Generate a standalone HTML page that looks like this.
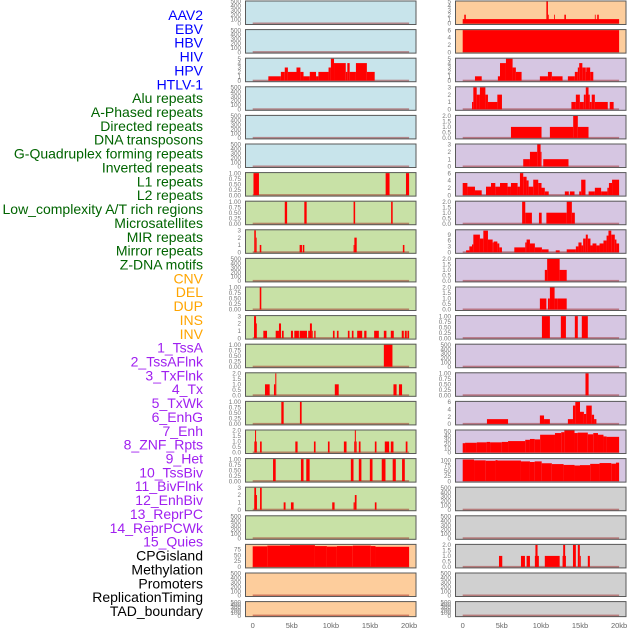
<!DOCTYPE html>
<html><head><meta charset="utf-8"><style>
body{margin:0;background:#fff;width:630px;height:630px;overflow:hidden}
svg{display:block;font-family:"Liberation Sans",sans-serif}
</style></head><body>
<svg id="chart" width="630" height="630"></svg>
<script>
const trackLabels = ["AAV2","EBV","HBV","HIV","HPV","HTLV-1","Alu repeats","A-Phased repeats","Directed repeats","DNA transposons","G-Quadruplex forming repeats","Inverted repeats","L1 repeats","L2 repeats","Low_complexity A/T rich regions","Microsatellites","MIR repeats","Mirror repeats","Z-DNA motifs","CNV","DEL","DUP","INS","INV","1_TssA","2_TssAFlnk","3_TxFlnk","4_Tx","5_TxWk","6_EnhG","7_Enh","8_ZNF_Rpts","9_Het","10_TssBiv","11_BivFlnk","12_EnhBiv","13_ReprPC","14_ReprPCWk","15_Quies","CPGisland","Methylation","Promoters","ReplicationTiming","TAD_boundary"];
const labelGroups = [6,13,5,15,5];
const xTicks = [0,5,10,15,20];
const xTickLabels = ["0","5kb","10kb","15kb","20kb"];
const ticksEmpty = ["0","100","200","300","400","500"];
const ticks1 = ["0.00","0.25","0.50","0.75","1.00"];
const ticks2 = ["0.0","0.5","1.0","1.5","2.0"];
const ticks3 = ["0","1","2","3"];
const ticks5 = ["0","1","2","3","4","5"];
const ticks6 = ["0","2","4","6"];
const ticks9 = ["0","3","6","9"];
const ticks50 = ["0","10","20","30","40","50"];
const ticks100 = ["0","25","50","75","100"];
const ticks75 = ["0","25","50","75"];

// column 1 series [startKb, endKb, value]
const c1Hiv = [[2.0,3.6,1],[3.6,4.1,2],[4.1,4.5,3],[4.5,5.6,2],[5.6,6.1,3],[6.1,6.5,2],[6.5,7.3,1],[7.3,8.1,2],[8.1,8.4,1],[8.4,9.7,2],[9.7,10.0,3],[10.0,10.4,5],[10.4,11.9,4],[11.9,12.1,2],[12.1,12.4,4],[12.4,13.2,2],[13.2,14.6,4],[14.6,15.6,2]];
const c1L1 = [[0.1,0.8,1],[17.0,17.5,1],[19.6,20.0,1]];
const c1LowC = [[4.1,4.4,1],[6.6,6.9,1],[12.9,13.1,1],[17.7,17.9,1]];
const c1Micro = [[0.2,0.4,3],[0.4,0.5,2],[0.9,1.1,1],[6.0,6.3,1],[6.4,6.6,1],[12.9,13.0,1],[13.0,13.3,2],[19.2,19.4,1]];
const c1Mirror = [[0.9,1.1,1]];
const c1Cnv = [[0.17,0.43,3],[0.43,0.51,2],[1.36,1.83,1],[2.94,3.36,1],[3.36,3.62,2],[3.74,3.96,1],[4.89,5.15,1],[5.32,5.91,1],[6.0,6.94,1],[7.1,7.32,1],[7.32,7.57,2],[7.57,7.66,1],[7.87,8.04,1],[10.26,10.47,1],[10.77,10.98,1],[12.17,12.38,1],[12.68,12.89,1],[13.36,14.0,1],[14.26,14.55,1],[15.53,16.13,1],[16.77,17.1,1],[17.66,18.04,1],[19.06,19.32,1],[19.45,19.7,1],[19.79,20.0,1]];
const c1Del = [[16.77,17.87,1]];
const c1Dup = [[1.57,2.17,1],[2.72,2.89,1],[2.89,3.02,2],[10.5,11.0,1],[18.0,18.4,1],[18.7,19.1,1]];
const c1Ins = [[3.66,3.96,1],[6.04,6.26,1]];
const c1Inv = [[0.21,0.3,1],[0.3,0.43,2],[0.43,0.51,1],[0.94,1.15,1],[5.45,5.74,1],[7.83,8.04,1],[9.62,9.83,1],[11.66,12.0,1],[12.98,13.06,1],[13.06,13.19,2],[13.19,13.28,1],[13.57,13.79,1],[15.62,15.83,1],[16.89,17.45,1],[17.66,18.0,1],[19.57,19.79,1]];
const c1TssA = [[2.6,2.94,1],[6.17,6.5,1],[6.85,7.28,1],[12.55,12.89,1],[13.57,13.9,1],[14.98,15.32,1],[16.5,16.98,1],[17.9,18.3,1],[19.1,19.45,1]];
const c1Flnk = [[0.21,0.28,2],[0.21,0.43,3],[0.43,0.55,2],[0.94,1.15,3],[3.96,4.2,1],[4.89,5.23,1],[10.17,10.47,1],[12.9,13.06,1],[13.06,13.28,2],[15.62,15.83,1]];
const c1Cpg = [[0,1.87,87],[1.87,4.77,90],[4.77,7.96,92],[7.96,9.49,88],[9.49,10.77,86],[10.77,12.8,88],[12.8,15.1,90],[15.1,15.7,88],[15.7,20.0,85]];
// column 2 series
const c2Aav = [[0,20,1],[0.2,0.4,2],[10.7,10.9,5],[10.9,11.0,2],[11.7,11.8,2],[13.0,13.2,2],[16.9,17.0,2],[17.2,17.4,2]];
const c2Ebv = [[0,20,6]];
const c2Hbv = [[1.57,2.43,1],[4.5,4.77,1],[4.77,5.53,4],[5.53,6.38,5],[6.38,6.8,3],[6.8,7.53,2],[9.87,10.9,1],[10.9,11.4,2],[11.4,12.77,1],[13.45,14.34,1],[14.34,14.72,2],[14.72,14.9,3],[14.9,15.3,4],[15.3,15.74,3],[15.74,15.8,2],[15.8,16.3,3],[16.3,16.7,2]];
const c2Hiv = [[1.19,1.36,1],[1.36,1.79,3],[1.79,2.2,2],[2.2,2.9,3],[2.9,3.23,2],[3.23,4.43,1],[4.43,5.02,2],[13.9,14.47,1],[14.47,14.98,2],[14.98,15.49,1],[15.49,15.74,2],[15.74,16.09,3],[16.09,16.25,2],[16.25,16.5,1],[16.5,16.9,2],[16.9,18.55,1],[18.8,19.3,1]];
const c2Hpv = [[6.17,10.08,1],[11.15,14.13,1],[14.13,14.72,2],[14.72,16.09,1]];
const c2Htlv = [[7.74,8.6,1],[8.6,9.53,2],[9.53,9.96,3],[9.96,10.08,2],[10.3,13.53,1]];
const c2Alu = [[0,0.6,3.3],[0.6,1.57,2.3],[1.57,2.43,1.3],[2.98,3.62,2.3],[3.62,4.17,3.3],[4.17,4.77,2.3],[4.77,5.74,3.3],[5.74,6.17,2.3],[6.17,7.02,3.3],[7.02,7.32,2.3],[7.32,7.74,6],[7.74,8.17,5],[8.17,8.43,4],[8.43,9.02,2.3],[9.02,9.66,4.2],[9.66,10.08,3.3],[10.08,10.5,2],[10.5,11.0,1],[13.06,13.57,1],[13.7,14.3,1],[14.9,15.15,1],[15.15,15.7,4.2],[16.1,16.9,1],[16.9,17.7,2],[17.7,18.5,1],[18.5,18.7,2],[18.7,19.1,3.3],[19.1,20.0,4.2]];
const c2Aph = [[7.6,8.0,2],[8.0,8.85,1],[9.75,10.1,1],[10.7,13.3,1],[13.3,13.96,2],[13.96,14.34,1]];
const c2Dir = [[0.43,0.85,1],[0.85,1.19,3],[1.19,1.36,4],[1.36,2.2,9],[2.2,2.64,7],[2.64,3.23,11],[3.23,3.83,6.5],[3.83,3.96,5],[3.96,4.43,5.5],[4.43,4.68,4.5],[4.68,5.02,2.5],[6.6,8.0,2.5],[8.0,8.17,5],[8.17,8.6,6.5],[8.6,9.23,4.5],[9.23,10.13,2.5],[10.13,10.98,1.5],[11.9,12.4,1],[13.3,14.47,1.5],[14.47,14.8,3],[14.8,15.2,5],[15.2,15.4,3.5],[15.4,15.74,7],[15.74,16.0,9],[16.0,16.34,7],[16.34,16.6,3.5],[16.6,17.1,4.5],[17.1,17.5,3.5],[17.5,18.0,4.5],[18.0,18.4,6],[18.4,18.64,8.5],[18.64,19.0,11],[19.0,19.45,9],[19.45,19.66,6.5],[19.66,20.0,4.5]];
const c2Dna = [[10.5,10.8,1],[10.8,12.4,2],[12.4,13.3,1]];
const c2Gq = [[9.87,10.7,1],[10.9,11.15,1],[11.15,11.75,2],[11.75,12.1,1],[12.1,13.3,1]];
const c2Inv = [[10.13,11.15,1],[12.55,13.2,1],[14.34,14.72,1],[15.23,16.0,1]];
const c2L2b = [[15.7,16.1,1]];
const c2Low = [[3.1,5.8,1.3],[9.87,10.4,2.3],[10.4,11.15,1.3],[13.45,14.1,1.3],[14.1,14.4,5],[14.4,15.0,6],[15.0,15.5,3.3],[15.5,15.8,2.7],[15.8,16.5,5],[16.5,16.8,2.5],[16.8,17.1,1.3]];
const c2Sat = [[0,0.3,22],[0.3,1.8,23],[1.8,3.06,24],[3.06,3.5,25],[3.5,5.0,24],[5.0,5.8,25],[5.8,8.0,27],[8.0,8.6,30],[8.6,9.2,32],[9.2,9.9,31],[9.9,11.8,42],[11.8,12.6,46],[12.6,13.0,48],[13.0,14.3,52],[14.3,14.7,46],[14.7,16.0,47],[16.0,16.7,43],[16.7,17.3,46],[17.3,18.0,42],[18.0,18.4,38],[18.4,20.0,37]];
const c2Mir = [[0,1.45,104],[1.45,2.94,100],[2.94,4.2,98],[4.2,4.45,101],[4.45,7.45,99],[7.45,8.6,95],[8.6,9.2,92],[9.2,10.1,95],[10.1,11.4,86],[11.4,12.9,82],[12.9,14.3,78],[14.3,15.0,75],[15.0,16.3,77],[16.3,17.5,83],[17.5,19.0,87],[19.0,19.6,84],[19.6,20.0,89]];
const c2Cpg = [[4.64,5.06,1],[7.45,7.96,1],[8.17,8.6,1],[9.23,9.74,1],[9.3,9.57,2],[10.5,12.4,1],[12.77,13.2,1],[12.85,13.1,2],[14.1,14.47,2],[14.72,14.98,2],[14.98,15.1,1],[16.0,16.26,1]];

const BG_BLUE="#c8e4eb", BG_GREEN="#c8e1a6", BG_ORANGE="#fdcd9c", BG_PURPLE="#d6c6e2", BG_GREY="#d0d0d0";
const panels = [
 [0,0,BG_BLUE,ticksEmpty,500,[]],[0,1,BG_BLUE,ticksEmpty,500,[]],[0,2,BG_BLUE,ticks5,5,c1Hiv],[0,3,BG_BLUE,ticksEmpty,500,[]],[0,4,BG_BLUE,ticksEmpty,500,[]],[0,5,BG_BLUE,ticksEmpty,500,[]],
 [0,6,BG_GREEN,ticks1,1,c1L1],[0,7,BG_GREEN,ticks1,1,c1LowC],[0,8,BG_GREEN,ticks3,3,c1Micro],[0,9,BG_GREEN,ticksEmpty,500,[]],[0,10,BG_GREEN,ticks1,1,c1Mirror],[0,11,BG_GREEN,ticks3,3,c1Cnv],[0,12,BG_GREEN,ticks1,1,c1Del],[0,13,BG_GREEN,ticks2,2,c1Dup],[0,14,BG_GREEN,ticks1,1,c1Ins],[0,15,BG_GREEN,ticks2,2,c1Inv],[0,16,BG_GREEN,ticks1,1,c1TssA],[0,17,BG_GREEN,ticks3,3,c1Flnk],[0,18,BG_GREEN,ticksEmpty,500,[]],
 [0,19,BG_ORANGE,ticks75,93,c1Cpg],[0,20,BG_ORANGE,ticksEmpty,500,[]],[0,21,BG_ORANGE,ticksEmpty,500,[]],
 [1,0,BG_ORANGE,ticks5,5,c2Aav],[1,1,BG_ORANGE,ticks6,6,c2Ebv],
 [1,2,BG_PURPLE,ticks5,5,c2Hbv],[1,3,BG_PURPLE,ticks3,3,c2Hiv],[1,4,BG_PURPLE,ticks2,2,c2Hpv],[1,5,BG_PURPLE,ticks3,3,c2Htlv],[1,6,BG_PURPLE,ticks6,6,c2Alu],[1,7,BG_PURPLE,ticks2,2,c2Aph],[1,8,BG_PURPLE,ticks9,11.2,c2Dir],[1,9,BG_PURPLE,ticks2,2,c2Dna],[1,10,BG_PURPLE,ticks2,2,c2Gq],[1,11,BG_PURPLE,ticks1,1,c2Inv],[1,12,BG_PURPLE,ticksEmpty,500,[]],[1,13,BG_PURPLE,ticks1,1,c2L2b],[1,14,BG_PURPLE,ticks6,6,c2Low],[1,15,BG_PURPLE,ticks50,52,c2Sat],[1,16,BG_PURPLE,ticks100,106,c2Mir],
 [1,17,BG_GREY,ticksEmpty,500,[]],[1,18,BG_GREY,ticksEmpty,500,[]],[1,19,BG_GREY,ticks2,2,c2Cpg],[1,20,BG_GREY,ticksEmpty,500,[]],[1,21,BG_GREY,ticksEmpty,500,[]]
];

const NS="http://www.w3.org/2000/svg";
const svg=document.getElementById('chart');
function mk(tag,attrs,parent){const e=document.createElementNS(NS,tag);for(const k in attrs)e.setAttribute(k,attrs[k]);(parent||svg).appendChild(e);return e;}
const colLeft=[245,455], colW=171.5, kbPx=7.82, rowStep=28.6;
function xScale(col,kb){return colLeft[col]+7.7+kb*kbPx;}
function rowTop(r){return r*rowStep+0.5;}
function rowH(r){return r===21?16:24.5;}

// left labels
const colors=["#0000ff","#006400","#ffa500","#a020f0","#000000"];
let gi=0,cnt=0;
trackLabels.forEach((t,i)=>{
  while(cnt>=labelGroups[gi]){gi++;cnt=0;}
  cnt++;
  const tx=mk('text',{x:203,y:20+i*13.86,'text-anchor':'end','font-size':14,fill:colors[gi]});
  tx.textContent=t;
  
  
});

panels.forEach(p=>{
  const [col,row,bg,ticks,ymax,segs]=p;
  const g=mk('g',{});
  
  
  const top=rowTop(row),h=rowH(row),L=colLeft[col];
  const y0=top+h-1.5, yr=h-2.5;
  const yScale=v=>y0-v/ymax*yr;
  mk('rect',{x:L,y:top,width:colW,height:h,fill:bg},g);
  ticks.forEach(t=>{
    const tt=mk('text',{x:L-4,y:yScale(parseFloat(t))+2.2,'text-anchor':'end','font-size':6.3,fill:'#777'},g);
    tt.textContent=t;
    
    
  });
  mk('rect',{x:xScale(col,0),y:y0-1,width:xScale(col,20)-xScale(col,0),height:2,fill:'rgba(150,20,20,0.45)'},g);
  segs.forEach(s=>{
    const b=mk('rect',{x:xScale(col,s[0]),y:yScale(s[2]),width:Math.max(0.8,xScale(col,s[1])-xScale(col,s[0])),height:y0-yScale(s[2]),fill:'#ff0000'},g);
    
    
  });
  mk('rect',{x:L+0.5,y:top+0.5,width:colW-1,height:h-1,fill:'none',stroke:'#5a5a5a','stroke-width':1},g);
});

[0,1].forEach(col=>{
  xTicks.forEach((k,i)=>{
    const t=mk('text',{x:xScale(col,k),y:628,'text-anchor':'middle','font-size':7.5,fill:'#666'});
    t.textContent=xTickLabels[i];
    
    
  });
});
</script>
</body></html>
